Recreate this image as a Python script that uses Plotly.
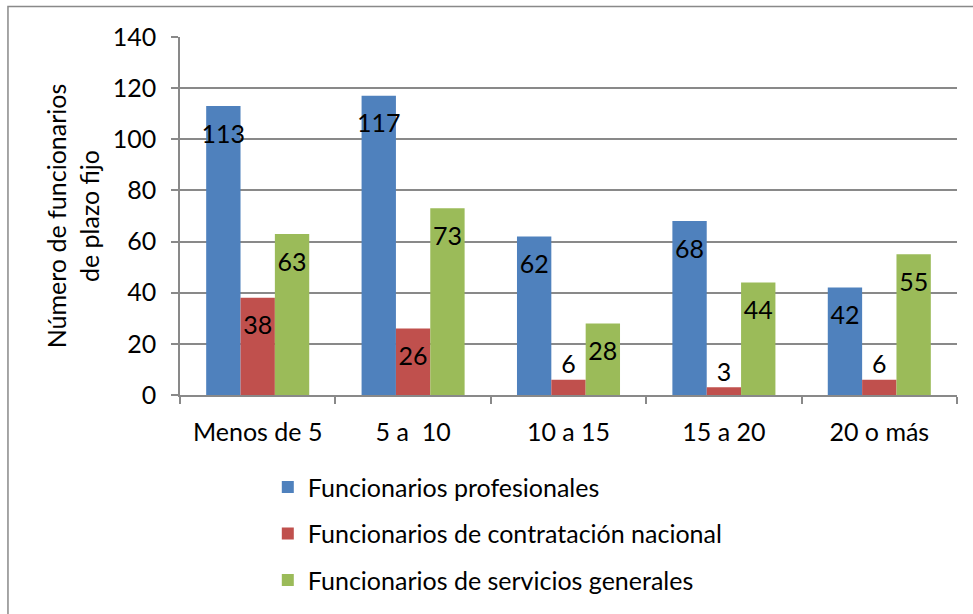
import plotly.graph_objects as go

categories = ["Menos de 5", "5 a  10", "10 a 15", "15 a 20", "20 o más"]
profesionales = [113, 117, 62, 68, 42]
contratacion_nacional = [38, 26, 6, 3, 6]
servicios_generales = [63, 73, 28, 44, 55]

series_names = [
    "Funcionarios profesionales",
    "Funcionarios de contratación nacional",
    "Funcionarios de servicios generales",
]
series_values = [profesionales, contratacion_nacional, servicios_generales]
series_colors = ["#4F81BD", "#C0504D", "#9BBB59"]

y_ticks = [0, 20, 40, 60, 80, 100, 120, 140]
y_title = "Número de funcionarios<br>de plazo fijo"

FONT = "Lato, Carlito, Calibri, 'Liberation Sans', sans-serif"
FS = 25
GRAY = "#898989"

fig = go.Figure()

for i, (name, vals, col) in enumerate(zip(series_names, series_values, series_colors)):
    fig.add_trace(go.Bar(
        x=categories, y=vals, name=name, marker=dict(color=col, line=dict(width=0)),
        offsetgroup=str(i), legendgroup=str(i), hoverinfo="skip",
    ))

for i, vals in enumerate(series_values):
    inside = [v >= 10 for v in vals]
    fig.add_trace(go.Scatter(
        x=categories, y=vals, mode="markers+text", text=[str(v) for v in vals],
        textposition=["bottom center" if f else "top center" for f in inside],
        marker=dict(size=[27 if f else 0 for f in inside], opacity=0),
        textfont=dict(family=FONT, size=FS, color="#000000"),
        offsetgroup=str(i), showlegend=False, hoverinfo="skip", cliponaxis=False,
    ))

fig.update_layout(
    width=973, height=614,
    margin=dict(l=180, r=16, t=37, b=218),
    paper_bgcolor="white", plot_bgcolor="white",
    font=dict(family=FONT, size=FS, color="#000000"),
    barmode="group", bargap=0.337, bargroupgap=0,
    scattermode="group", scattergap=0.337,
    showlegend=True,
    legend=dict(
        x=0.113, y=-0.19, xanchor="left", yanchor="top",
        orientation="v", tracegroupgap=11,
        font=dict(family=FONT, size=FS, color="#000000"),
        bgcolor="rgba(0,0,0,0)",
    ),
    xaxis=dict(
        type="category", showline=True, linecolor=GRAY, linewidth=1.5,
        ticks="outside", tickson="boundaries", ticklen=7, tickcolor=GRAY, tickwidth=1.5,
        ticklabelstandoff=14, showgrid=False,
        tickfont=dict(family=FONT, size=FS, color="#000000"),
    ),
    yaxis=dict(
        range=[0, 140], tickvals=y_ticks, showline=True, linecolor=GRAY, linewidth=1.5,
        ticks="outside", ticklen=7, tickcolor=GRAY, tickwidth=1.5,
        showgrid=True, gridcolor=GRAY, gridwidth=1.5, zeroline=False,
        ticklabelstandoff=10,
        tickfont=dict(family=FONT, size=FS, color="#000000"),
        title=dict(text=y_title, standoff=6, font=dict(family=FONT, size=FS, color="#000000")),
    ),
    shapes=[dict(
        type="rect", xref="paper", yref="paper",
        x0=-0.2214, x1=1.2, y0=-0.8, y1=1.085,
        line=dict(color=GRAY, width=1.5), fillcolor="rgba(0,0,0,0)", layer="below",
    )],
)

fig.write_html(
    "out.html",
    config={"displayModeBar": False},
    post_script="document.body.style.margin='0';document.body.style.overflow='hidden';",
)
